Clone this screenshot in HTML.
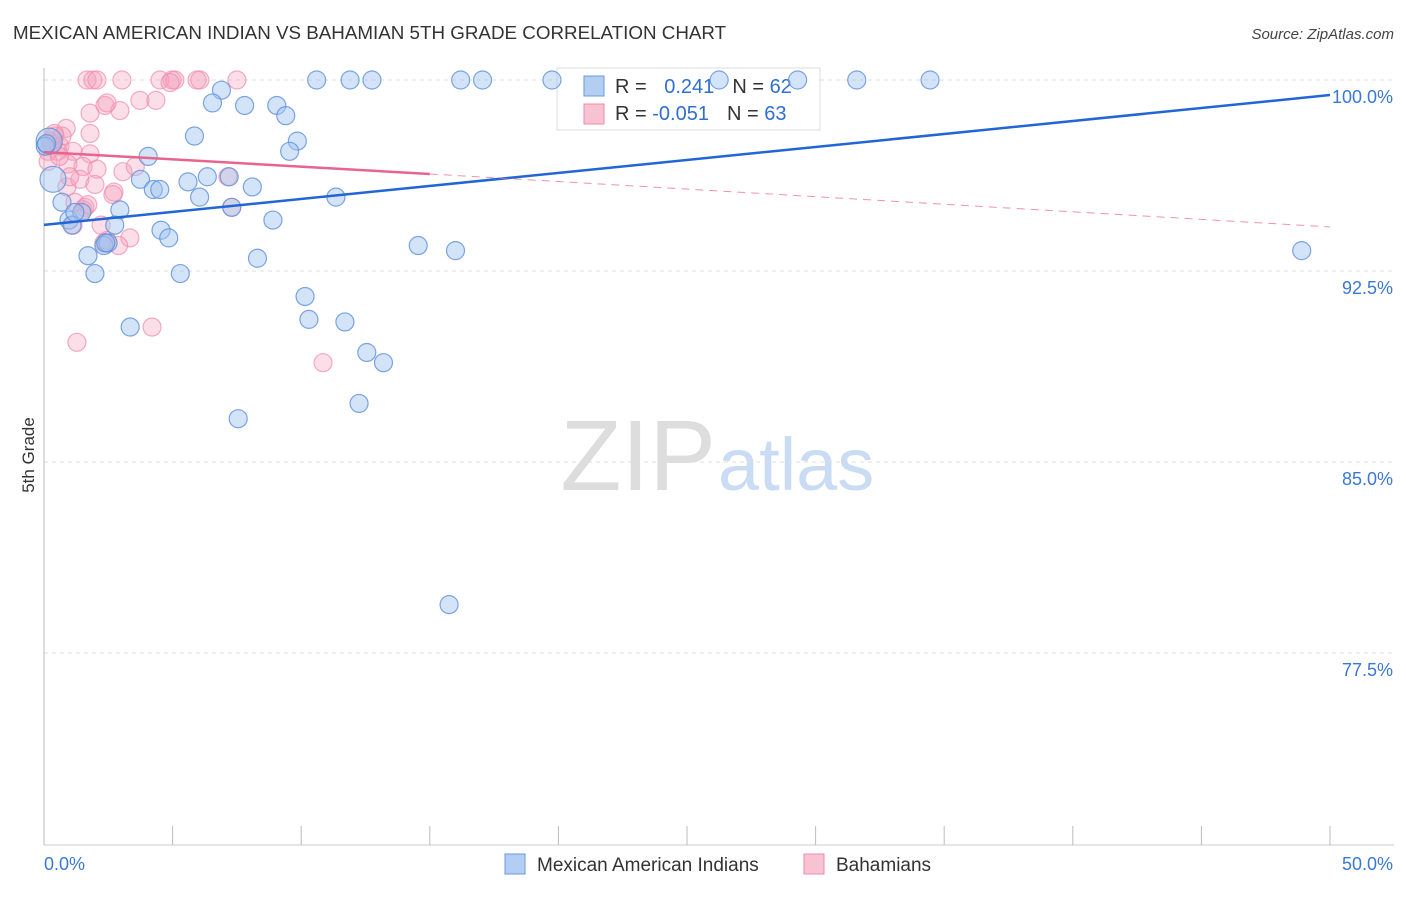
<!DOCTYPE html>
<html><head><meta charset="utf-8"><style>
body{margin:0;background:#fff;font-family:"Liberation Sans",sans-serif;}
svg text{font-family:"Liberation Sans",sans-serif;}
</style></head><body>
<svg id="chart" width="1406" height="892" xmlns="http://www.w3.org/2000/svg">
<text x="13" y="39" font-size="18.8" fill="#333">MEXICAN AMERICAN INDIAN VS BAHAMIAN 5TH GRADE CORRELATION CHART</text>
<text x="1394" y="39" font-size="15" fill="#444" text-anchor="end" font-style="italic">Source: ZipAtlas.com</text>
<text x="716" y="490" font-size="100" text-anchor="end" fill="#ddd" font-family="Liberation Serif">ZIP</text>
<text x="718" y="490" font-size="74" fill="#c9dcf3">atlas</text>
<g id="grid"></g>
<g>
<rect x="557" y="68" width="263" height="62" fill="#fff" stroke="#ddd"/>
<rect x="584" y="76" width="20" height="20" fill="#b3cdf3" stroke="#6a9ae0"/>
<rect x="584" y="104" width="20" height="20" fill="#f7c3d3" stroke="#f08aab"/>
<text x="615" y="93" font-size="20" fill="#333">R = <tspan fill="#2f6fd0" dx="12">0.241</tspan><tspan fill="#333" dx="18">N = </tspan><tspan fill="#2f6fd0">62</tspan></text>
<text x="615" y="120" font-size="20" fill="#333">R = <tspan fill="#2f6fd0">-0.051</tspan><tspan fill="#333" dx="18">N = </tspan><tspan fill="#2f6fd0">63</tspan></text>
</g>
<g id="pts"></g><g id="trend"></g>
<text transform="translate(34,455) rotate(-90)" font-size="17" fill="#333" text-anchor="middle">5th Grade</text>
<g>
<rect x="505" y="854" width="20" height="20" fill="#b3cdf3" stroke="#6a9ae0"/>
<text x="537" y="871" font-size="19" fill="#333">Mexican American Indians</text>
<rect x="804" y="854" width="20" height="20" fill="#f7c3d3" stroke="#f08aab"/>
<text x="836" y="871" font-size="19" fill="#333">Bahamians</text>
</g>
</svg>
<script>
const yTicks=[100,92.5,85,77.5];
const yTickLabels=["100.0%","92.5%","85.0%","77.5%"];
const xTickLabels=["0.0%","50.0%"];
const blueX=[10.6,11.9,12.75,16.2,17.05,19.75,26.25,29.3,31.6,34.45,48.9,6.9,6.55,7.8,9.05,9.4,5.85,9.85,9.55,4.05,0.2,0.35,3.75,5.6,6.35,7.2,8.1,4.25,4.5,6.05,11.35,0.7,2.95,7.3,8.9,0.97,1.47,1.09,2.75,4.55,4.85,2.33,2.49,14.55,16.0,1.71,8.3,1.98,5.3,10.15,10.3,11.7,3.35,12.55,13.2,12.25,7.55,15.75,0.05,0.1,1.2,2.4];
const blueY=[100,100,100,100,100,100,100,100,100,100,93.3,99.6,99.1,99.0,99.0,98.6,97.8,97.6,97.2,97.0,97.6,96.1,96.1,96.0,96.2,96.2,95.8,95.7,95.7,95.4,95.4,95.2,94.9,95.0,94.5,94.5,94.8,94.3,94.3,94.1,93.8,93.5,93.6,93.5,93.3,93.1,93.0,92.4,92.4,91.5,90.6,90.5,90.3,89.3,88.9,87.3,86.7,79.4,97.4,97.5,94.8,93.6];
const pinkX=[1.67,1.9,2.06,3.03,4.51,4.98,5.09,5.95,6.06,7.5,4.9,3.73,4.35,2.37,2.95,2.45,1.79,0.86,1.79,0.23,0.43,0.62,0.16,0.54,1.13,1.79,0.93,1.52,2.06,3.07,0.89,1.4,1.98,2.72,7.15,0.16,1.2,1.52,1.59,2.68,2.22,1.13,3.34,2.33,2.45,4.2,1.28,10.85,7.3,0.7,0.3,0.6,3.55,1.0,2.9,0.4,1.7];
const pinkY=[100,100,100,100,100,100,100,100,100,100,99.9,99.2,99.2,99.0,98.8,99.1,98.7,98.1,97.9,97.6,97.8,97.4,97.2,97.2,97.2,97.1,96.7,96.6,96.5,96.4,95.8,96.1,95.9,95.6,96.2,96.8,95.2,94.9,95.0,95.5,94.3,94.3,93.8,93.6,93.7,90.3,89.7,88.9,95.0,97.8,97.5,97.0,96.6,96.2,93.5,97.9,95.1];
const blueTrend=[[0,94.31],[50,99.41]];
const pinkTrend=[[0,97.17],[15,96.31],[50,94.23]];
const NS="http://www.w3.org/2000/svg";
const X=v=>44+v/50*1286, Y=v=>80+(100-v)*191/7.5;
function mk(t,a,p){const e=document.createElementNS(NS,t);for(const k in a)e.setAttribute(k,a[k]);(p||document.getElementById('chart')).appendChild(e);return e;}
const g=document.getElementById('grid');
yTicks.forEach((t,i)=>{
 const l=mk('line',{x1:44,x2:1394,y1:Y(t),y2:Y(t),stroke:'#ddd','stroke-dasharray':'4,4'},g);
 
 
 const tx=mk('text',{x:1393,y:Y(t)+23,'font-size':18,fill:'#3a78d4','text-anchor':'end'},g);
 tx.textContent=yTickLabels[i];
 
 
});
const ax=mk('line',{x1:44,x2:44,y1:68,y2:845,stroke:'#bbb'},g);


const bx=mk('line',{x1:44,x2:1394,y1:845,y2:845,stroke:'#ccc'},g);


for(let i=0;i<=10;i++){
 const t=mk('line',{x1:X(i*5),x2:X(i*5),y1:826,y2:845,stroke:'#bbb'},g);
 
 
}
[[0,'start',44],[1,'end',1393]].forEach(([i,a,x])=>{
 const tx=mk('text',{x:x,y:870,'font-size':18,fill:'#3a78d4','text-anchor':a},g);
 tx.textContent=xTickLabels[i];
 
 
});
const p=document.getElementById('pts');
pinkX.forEach((x,i)=>{
 const c=mk('circle',{cx:X(x),cy:Y(pinkY[i]),r:9,fill:'rgba(244,160,190,0.35)',stroke:'#f08aab','stroke-width':1.2,'stroke-opacity':0.7},p);
 
 
});
blueX.forEach((x,i)=>{
 const c=mk('circle',{cx:X(x),cy:Y(blueY[i]),r:(i==20||i==21)?13:9,fill:'rgba(160,195,240,0.45)',stroke:'#5b8fdc','stroke-width':1.2,'stroke-opacity':0.8},p);
 
 
});
const tr=document.getElementById('trend');
const b=mk('line',{x1:X(blueTrend[0][0]),y1:Y(blueTrend[0][1]),x2:X(blueTrend[1][0]),y2:Y(blueTrend[1][1]),stroke:'#2166d4','stroke-width':2.5},tr);


const pk=mk('line',{x1:X(pinkTrend[0][0]),y1:Y(pinkTrend[0][1]),x2:X(pinkTrend[1][0]),y2:Y(pinkTrend[1][1]),stroke:'#e8648f','stroke-width':2.5},tr);


const pd=mk('line',{x1:X(pinkTrend[1][0]),y1:Y(pinkTrend[1][1]),x2:X(pinkTrend[2][0]),y2:Y(pinkTrend[2][1]),stroke:'#e8648f','stroke-width':1,'stroke-dasharray':'8,6','stroke-opacity':0.7},tr);


</script>
</body></html>
